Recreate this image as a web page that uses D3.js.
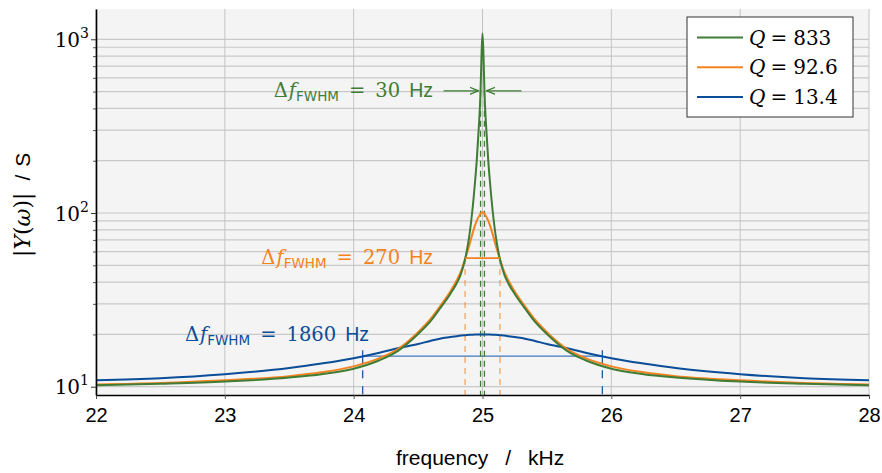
<!DOCTYPE html>
<html>
<head>
<meta charset="utf-8">
<script src="https://cdn.jsdelivr.net/npm/d3@7"></script>
<style>
  body { margin: 0; background: #fff; }
  svg { display: block; }
</style>
</head>
<body>
<div id="chart"></div>
<script>
// resonance curves |Y(w)| for three quality factors

const freq = [22, 22.5, 23, 23.5, 23.75, 24, 24.2, 24.35, 24.5, 24.6, 24.67, 24.75, 24.8, 24.83, 24.867,
  24.9, 24.92, 24.94, 24.955, 24.97, 24.985, 24.9925, 25, 25.0075, 25.015, 25.03, 25.045, 25.06, 25.08,
  25.1, 25.133, 25.17, 25.2, 25.25, 25.33, 25.4, 25.5, 25.65, 25.8, 26, 26.25, 26.5, 27, 27.5, 28];

const yQ833 = [10.2, 10.4, 10.7, 11.3, 11.8, 12.7, 14.2, 16.2, 20.1, 24.0, 28.2, 34.2, 39.4, 44, 55,
  76, 101, 145, 199, 300, 505, 820, 1080, 820, 505, 300, 199, 145, 101,
  76, 55, 44, 39.4, 34.2, 28.2, 24.0, 20.1, 16.2, 14.2, 12.7, 11.8, 11.3, 10.7, 10.4, 10.2];

const yQ92 = [10.3, 10.5, 10.9, 11.5, 12.1, 13.1, 14.6, 16.6, 20.6, 24.7, 29, 35.3, 41, 45.6, 55,
  66, 75, 84, 90, 95, 99, 100.5, 101, 100.5, 99, 95, 90, 84, 75,
  66, 55, 45.6, 41, 35.3, 29, 24.7, 20.6, 16.6, 14.6, 13.1, 12.1, 11.5, 10.9, 10.5, 10.3];

const yQ13 = [10.9, 11.2, 11.8, 12.8, 13.6, 14.6, 15.7, 16.7, 17.6, 18.4, 18.9, 19.3, 19.55, 19.7, 19.8,
  19.9, 19.93, 19.96, 19.98, 19.99, 20, 20, 20, 20, 20, 19.99, 19.98, 19.96, 19.93,
  19.9, 19.8, 19.7, 19.55, 19.3, 18.9, 18.4, 17.6, 16.7, 15.7, 14.6, 13.6, 12.8, 11.8, 11.2, 10.9];

// FWHM markers: [left f, right f, level]
const fwhmQ833 = [24.985, 25.015, 505];
const fwhmQ92 = [24.865, 25.135, 55];
const fwhmQ13 = [24.07, 25.93, 15];

const xTicks = [22, 23, 24, 25, 26, 27, 28];
const yMajor = [10, 100, 1000];
const yMinor = [20, 30, 40, 50, 60, 70, 80, 90, 200, 300, 400, 500, 600, 700, 800, 900];

const series = [
  { name: '833', values: yQ833, color: '#3f7c35' },
  { name: '92.6', values: yQ92, color: '#f5821f' },
  { name: '13.4', values: yQ13, color: '#0b4d98' }
];

const W = 882, H = 473;
const margin = { left: 96, right: 13, top: 9, bottom: 78 };
const serif = '"DejaVu Serif", "Liberation Serif", serif';
const sans = '"Liberation Sans", "DejaVu Sans", sans-serif';

const svg = d3.select('#chart').append('svg')
  .attr('width', W)
  .attr('height', H)
  .attr('viewBox', [0, 0, W, H]);

const x = d3.scaleLinear().domain([22, 28]).range([margin.left, W - margin.right]);
const y = d3.scaleLog().domain([8.96, 1494]).range([H - margin.bottom, margin.top]);

const x0 = x.range()[0], x1 = x.range()[1];
const yb = y.range()[0], yt = y.range()[1];

// plot background
svg.append('rect')
  .attr('x', x0).attr('y', yt)
  .attr('width', x1 - x0).attr('height', yb - yt)
  .attr('fill', '#f4f4f4');

// grid
svg.append('g').selectAll('line')
  .data(yMajor.concat(yMinor))
  .join('line')
  .attr('x1', x0).attr('x2', x1)
  .attr('y1', d => y(d)).attr('y2', d => y(d))
  .attr('stroke', '#c8c8c8')
  .attr('stroke-width', 1.2);

svg.append('g').selectAll('line')
  .data(xTicks)
  .join('line')
  .attr('x1', d => x(d)).attr('x2', d => x(d))
  .attr('y1', yt).attr('y2', yb)
  .attr('stroke', '#c4c4c4')
  .attr('stroke-width', 1);

// FWHM helper lines (drawn under the curves)
const dashed = (f, level, color, width, dash, opacity) => {
  svg.append('line')
    .attr('x1', x(f)).attr('x2', x(f))
    .attr('y1', y(level)).attr('y2', yb)
    .attr('stroke', color)
    .attr('stroke-width', width)
    .attr('stroke-dasharray', dash)
    .attr('opacity', opacity);
};

// Q = 13.4
svg.append('line')
  .attr('x1', x(fwhmQ13[0])).attr('x2', x(fwhmQ13[1]))
  .attr('y1', y(fwhmQ13[2])).attr('y2', y(fwhmQ13[2]))
  .attr('stroke', '#3f78bd').attr('stroke-width', 1.4);
fwhmQ13.slice(0, 2).forEach(f => {
  svg.append('line')
    .attr('x1', x(f)).attr('x2', x(f))
    .attr('y1', y(fwhmQ13[2]) - 6).attr('y2', y(fwhmQ13[2]) + 8)
    .attr('stroke', '#0b4d98').attr('stroke-width', 1.2);
  svg.append('line')
    .attr('x1', x(f)).attr('x2', x(f))
    .attr('y1', y(fwhmQ13[2]) + 14).attr('y2', yb)
    .attr('stroke', '#0b4d98').attr('stroke-width', 1.2)
    .attr('stroke-dasharray', '8,8');
});

// Q = 92.6
fwhmQ92.slice(0, 2).forEach(f => dashed(f, fwhmQ92[2], '#f5821f', 1.5, '6,5', 0.6));

// Q = 833
fwhmQ833.slice(0, 2).forEach(f => dashed(f, fwhmQ833[2], '#3f7c35', 1.3, '6,4', 1));

// curves
const line = d3.line()
  .x((d, i) => x(freq[i]))
  .y(d => y(d))
  .curve(d3.curveMonotoneX);

series.slice().reverse().forEach(s => {
  svg.append('path')
    .attr('d', line(s.values))
    .attr('fill', 'none')
    .attr('stroke', s.color)
    .attr('stroke-width', 2);
});

// orange FWHM bar sits on top
svg.append('line')
  .attr('x1', x(fwhmQ92[0])).attr('x2', x(fwhmQ92[1]))
  .attr('y1', y(fwhmQ92[2])).attr('y2', y(fwhmQ92[2]))
  .attr('stroke', '#f5821f').attr('stroke-width', 1.6);

// arrows for the narrow peak
const defs = svg.append('defs');
defs.append('marker')
  .attr('id', 'arr')
  .attr('viewBox', '0 0 10 10')
  .attr('refX', 10).attr('refY', 5)
  .attr('markerWidth', 9).attr('markerHeight', 9)
  .attr('markerUnits', 'userSpaceOnUse')
  .attr('orient', 'auto')
  .append('path')
  .attr('d', 'M0,1 L10,5 L0,9')
  .attr('fill', 'none')
  .attr('stroke', '#3f7c35')
  .attr('stroke-width', 1.4);

const ya = y(fwhmQ833[2]);
svg.append('line')
  .attr('x1', x(fwhmQ833[0]) - 37).attr('x2', x(fwhmQ833[0]) - 2)
  .attr('y1', ya).attr('y2', ya)
  .attr('stroke', '#3f7c35').attr('stroke-width', 1.1)
  .attr('marker-end', 'url(#arr)');
svg.append('line')
  .attr('x1', x(fwhmQ833[1]) + 37).attr('x2', x(fwhmQ833[1]) + 2)
  .attr('y1', ya).attr('y2', ya)
  .attr('stroke', '#3f7c35').attr('stroke-width', 1.1)
  .attr('marker-end', 'url(#arr)');

// FWHM labels
function fwhmLabel(xPos, yPos, anchor, value, color) {
  const t = svg.append('text')
    .attr('x', xPos).attr('y', yPos)
    .attr('text-anchor', anchor)
    .attr('fill', color)
    .attr('font-size', 19.5);
  t.append('tspan').attr('font-family', serif).text('Δ');
  t.append('tspan').attr('font-family', serif).attr('font-style', 'italic').attr('dx', 1).text('f');
  t.append('tspan').attr('font-family', '"DejaVu Sans", sans-serif').attr('font-size', 13.5).attr('dy', 4).text('FWHM');
  t.append('tspan').attr('font-family', serif).attr('dy', -4).attr('dx', 10).text('=');
  t.append('tspan').attr('font-family', serif).attr('dx', 10).text(value);
  t.append('tspan').attr('font-family', sans).attr('dx', 9).text('Hz');
}

fwhmLabel(433, 97, 'end', '30', '#3f7c35');
fwhmLabel(433, 264, 'end', '270', '#f5821f');
fwhmLabel(369, 341, 'end', '1860', '#0b4d98');

// axes
const xAxis = svg.append('g')
  .attr('transform', `translate(0,${yb})`)
  .call(d3.axisBottom(x).tickValues(xTicks).tickSize(4).tickSizeOuter(0).tickPadding(9).tickFormat(d3.format('d')));
xAxis.select('.domain').attr('stroke', '#000').attr('stroke-width', 1.6);
xAxis.selectAll('.tick line').attr('stroke', '#555');
xAxis.selectAll('.tick text')
  .attr('font-family', sans)
  .attr('font-size', 20)
  .attr('fill', '#000');

const yAxisMinor = svg.append('g')
  .attr('transform', `translate(${x0},0)`)
  .call(d3.axisLeft(y).tickValues(yMinor).tickSize(3).tickFormat(''));
yAxisMinor.select('.domain').remove();
yAxisMinor.selectAll('.tick line').attr('stroke', '#555');

const yAxis = svg.append('g')
  .attr('transform', `translate(${x0},0)`)
  .call(d3.axisLeft(y).tickValues(yMajor).tickSize(5).tickSizeOuter(0).tickFormat(''));
yAxis.select('.domain').attr('stroke', '#000').attr('stroke-width', 1.6);
yAxis.selectAll('.tick line').attr('stroke', '#333');

yAxis.selectAll('.tick').append('text')
  .attr('x', -7)
  .attr('dy', '0.35em')
  .attr('text-anchor', 'end')
  .attr('fill', '#000')
  .attr('font-family', serif)
  .attr('font-size', 20)
  .each(function(d) {
    const t = d3.select(this);
    t.append('tspan').text('10');
    t.append('tspan').attr('font-size', 14).attr('dy', -9).text(Math.round(Math.log10(d)));
  });

// axis titles
const xTitle = svg.append('text')
  .attr('x', 396)
  .attr('y', 465)
  .attr('font-family', sans)
  .attr('font-size', 21)
  .attr('fill', '#000');
xTitle.append('tspan').text('frequency');
xTitle.append('tspan').attr('dx', 17).text('/');
xTitle.append('tspan').attr('dx', 17).text('kHz');

const yTitle = svg.append('text')
  .attr('transform', 'translate(30,257) rotate(-90)')
  .attr('font-size', 22)
  .attr('fill', '#000');
yTitle.append('tspan').attr('font-family', serif).text('|');
yTitle.append('tspan').attr('font-family', serif).attr('font-style', 'italic').text('Y');
yTitle.append('tspan').attr('font-family', serif).text('(');
yTitle.append('tspan').attr('font-family', serif).attr('font-style', 'italic').text('ω');
yTitle.append('tspan').attr('font-family', serif).text(')|');
yTitle.append('tspan').attr('font-family', sans).attr('font-size', 21).attr('dx', 12).text('/');
yTitle.append('tspan').attr('font-family', sans).attr('font-size', 21).attr('dx', 8).text('S');

// legend
const lg = svg.append('g').attr('transform', 'translate(687,17)');
lg.append('rect')
  .attr('width', 166).attr('height', 100)
  .attr('fill', '#fff')
  .attr('stroke', '#333')
  .attr('stroke-width', 1);

series.forEach((s, i) => {
  const ly = 20.5 + i * 29.7;
  lg.append('line')
    .attr('x1', 10).attr('x2', 56)
    .attr('y1', ly).attr('y2', ly)
    .attr('stroke', s.color)
    .attr('stroke-width', 2);
  const t = lg.append('text')
    .attr('x', 62).attr('y', ly + 7)
    .attr('font-family', serif)
    .attr('font-size', 20)
    .attr('fill', '#000');
  t.append('tspan').attr('font-style', 'italic').text('Q');
  t.append('tspan').attr('dx', 5).text('=');
  t.append('tspan').attr('dx', 6).text(s.name);
});
</script>
</body>
</html>
